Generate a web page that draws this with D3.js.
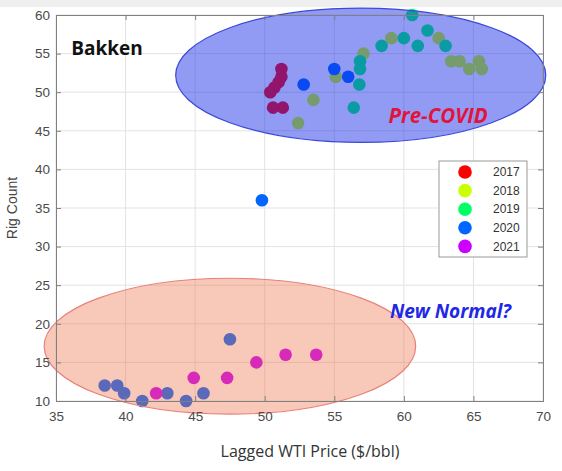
<!DOCTYPE html>
<html lang="en">
<head>
<meta charset="utf-8">
<title>Bakken rig count vs lagged WTI</title>
<style>
  body { margin: 0; background: #fff; }
  svg { display: block; font-family: "Liberation Sans", Arial, sans-serif; }
</style>
</head>
<body>
<svg id="chart" width="562" height="471"></svg>
<script src="https://d3js.org/d3.v7.min.js"></script>
<script>
// data, one pair of arrays per year
const years = ["2017", "2018", "2019", "2020", "2021"];
const yearColors = ["#ff0000", "#ccff00", "#00ff66", "#0066ff", "#cc00ff"]; // matlab hsv(5)

const price2017 = [51.2, 51.2, 51.0, 50.7, 50.4, 50.6, 51.3];
const rigs2017  = [53, 52, 51.3, 50.6, 50, 48, 48];

const price2018 = [52.4, 53.5, 55.1, 57.1, 59.1, 62.5, 63.4, 64.0, 64.7, 65.4, 65.6];
const rigs2018  = [46, 49, 52, 55, 57, 57, 54, 54, 53, 54, 53];

const price2019 = [56.85, 56.85, 56.8, 56.4, 58.4, 60.6, 60.0, 61.0, 61.7, 63.0];
const rigs2019  = [54, 53, 51, 48, 56, 60, 57, 56, 58, 56];

const price2020 = [52.8, 55.0, 56.0, 49.8, 38.5, 39.4, 39.9, 41.2, 43.0, 44.35, 45.6, 47.5];
const rigs2020  = [51, 53, 52, 36, 12, 12, 11, 10, 11, 10, 11, 18];

const price2021 = [42.2, 44.9, 47.3, 49.4, 51.5, 53.7];
const rigs2021  = [11, 13, 13, 15, 16, 16];

const xTicks = [35, 40, 45, 50, 55, 60, 65, 70];
const yTicks = [10, 15, 20, 25, 30, 35, 40, 45, 50, 55, 60];

const priceByYear = [price2017, price2018, price2019, price2020, price2021];
const rigsByYear = [rigs2017, rigs2018, rigs2019, rigs2020, rigs2021];

// ellipse annotations in data units: [cx, cy, rx, ry]
const preCovidEllipse = [56.9, 52.2, 13.3, 8.7];
const newNormalEllipse = [47.5, 17.1, 13.35, 8.8];

const margin = {top: 15, right: 19, bottom: 70, left: 56};
const svg = d3.select("#chart");
const width = +svg.attr("width") - margin.left - margin.right;
const height = +svg.attr("height") - margin.top - margin.bottom;

const x = d3.scaleLinear().domain([35, 70]).range([0, width]);
const y = d3.scaleLinear().domain([10, 60]).range([height, 0]);

// grey strip at the very top (cropped slide title)
svg.append("rect").attr("x", 0).attr("y", 0).attr("width", 562).attr("height", 7).attr("fill", "#efefef");

const g = svg.append("g").attr("transform", "translate(" + margin.left + "," + margin.top + ")");

// grid
g.append("g").selectAll("line").data(xTicks).join("line")
  .attr("x1", d => x(d)).attr("x2", d => x(d)).attr("y1", 0).attr("y2", height)
  .attr("stroke", "#e3e3e3");
g.append("g").selectAll("line").data(yTicks).join("line")
  .attr("y1", d => y(d)).attr("y2", d => y(d)).attr("x1", 0).attr("x2", width)
  .attr("stroke", "#e3e3e3");

// points
const points = [];
years.forEach((yr, i) => {
  priceByYear[i].forEach((p, j) => points.push({year: yr, c: yearColors[i], p: p, r: rigsByYear[i][j]}));
});
g.append("g").selectAll("circle").data(points).join("circle")
  .attr("cx", d => x(d.p)).attr("cy", d => y(d.r)).attr("r", 6.3)
  .attr("fill", d => d.c);

// translucent ellipses drawn over the points
function ellipse(e, fill, op, stroke) {
  g.append("ellipse")
    .attr("cx", x(e[0])).attr("cy", y(e[1]))
    .attr("rx", x(e[0] + e[2]) - x(e[0])).attr("ry", y(e[1] - e[3]) - y(e[1]))
    .attr("fill", fill).attr("fill-opacity", op)
    .attr("stroke", stroke).attr("stroke-width", 1.2);
}
ellipse(preCovidEllipse, "#152ae8", 0.47, "#3a48d8");
ellipse(newNormalEllipse, "#ed6e46", 0.38, "#e8807a");

// axes, matlab style box with inward ticks
const axisCol = "#808080";
g.append("g").attr("transform", "translate(0," + height + ")")
  .call(d3.axisBottom(x).tickValues(xTicks).tickSize(-5).tickPadding(10));
g.append("g")
  .call(d3.axisLeft(y).tickValues(yTicks).tickSize(-5).tickPadding(6));
g.append("g").call(d3.axisTop(x).tickValues(xTicks).tickSize(-5).tickFormat(""));
g.append("g").attr("transform", "translate(" + width + ",0)")
  .call(d3.axisRight(y).tickValues(yTicks).tickSize(-5).tickFormat(""));
g.selectAll(".domain, .tick line").attr("stroke", axisCol);
g.selectAll(".tick text").attr("fill", "#4a4a4a").style("font-size", "13.5px")
  .style("font-family", "'Liberation Sans', Arial, sans-serif");

// labels
svg.append("text")
  .attr("transform", "translate(17," + (margin.top + height / 2) + ") rotate(-90)")
  .attr("text-anchor", "middle").attr("fill", "#444").style("font-size", "14px")
  .text("Rig Count");
svg.append("text")
  .attr("x", 310).attr("y", 457).attr("text-anchor", "middle")
  .attr("fill", "#333").style("font-family", "'Open Sans', sans-serif").style("font-size", "16px")
  .text("Lagged WTI Price ($/bbl)");

g.append("text").attr("x", x(36.1)).attr("y", y(54.8))
  .style("font-family", "'Open Sans', sans-serif").style("font-weight", "bold").style("font-size", "19px")
  .attr("fill", "#111").text("Bakken");
g.append("text").attr("x", x(58.9)).attr("y", y(46.0))
  .style("font-family", "'Open Sans', sans-serif").style("font-weight", "bold").style("font-style", "italic")
  .style("font-size", "20.5px").attr("fill", "#e0143c").text("Pre-COVID");
g.append("text").attr("x", x(59.0)).attr("y", y(20.8))
  .style("font-family", "'Open Sans', sans-serif").style("font-weight", "bold").style("font-style", "italic")
  .style("font-size", "19px").attr("fill", "#1e28e6").text("New Normal?");

// legend
const lg = svg.append("g").attr("transform", "translate(439,161)");
lg.append("rect").attr("width", 88).attr("height", 96).attr("fill", "#fff").attr("stroke", "#999");
const item = lg.selectAll("g").data(years).join("g")
  .attr("transform", (d, i) => "translate(0," + (11 + i * 18.6) + ")");
item.append("circle").attr("cx", 26).attr("r", 6.8).attr("fill", (d, i) => yearColors[i]);
item.append("text").attr("x", 54).attr("dy", "0.35em").style("font-size", "12px").attr("fill", "#333").text(d => d);
</script>
</body>
</html>
